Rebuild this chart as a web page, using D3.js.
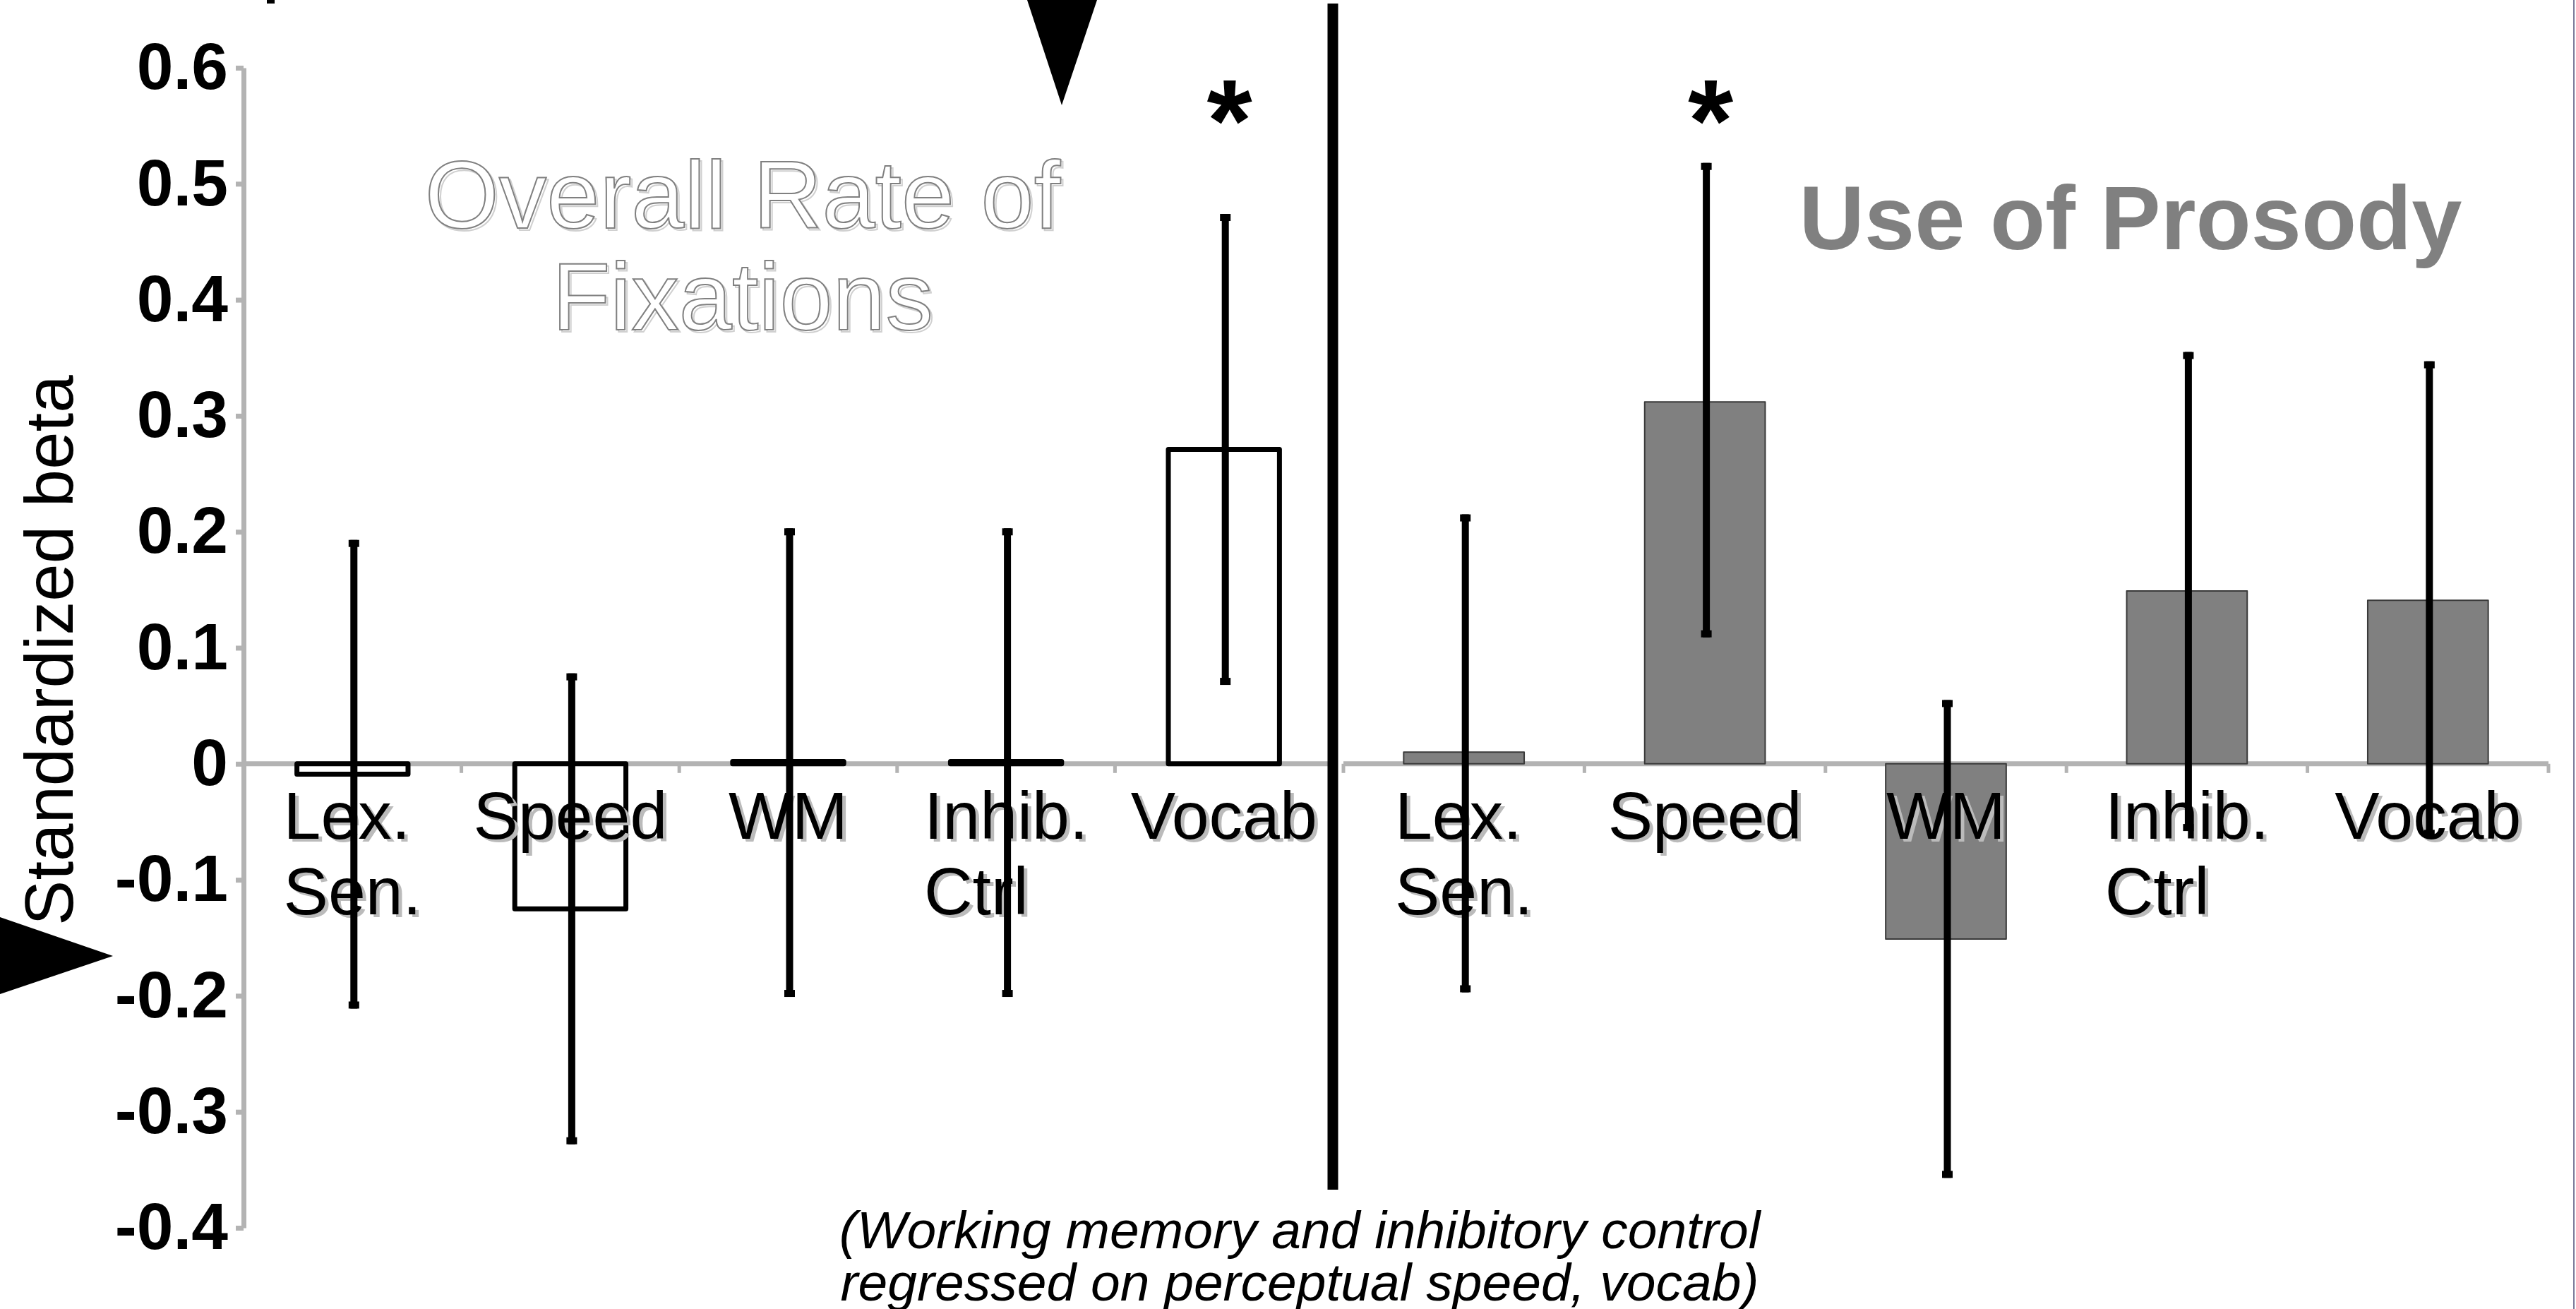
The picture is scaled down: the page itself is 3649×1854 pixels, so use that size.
<!DOCTYPE html>
<html>
<head>
<meta charset="utf-8">
<script src="https://cdnjs.cloudflare.com/ajax/libs/d3/7.8.5/d3.min.js"></script>
<style>
  body { margin: 0; background: #fff; }
  text { font-family: "Liberation Sans", Arial, sans-serif; }
</style>
</head>
<body>
<script>

// categories shared by both panels, label lines split on "|"
var categories = ["Lex.|Sen.", "Speed", "WM", "Inhib.|Ctrl", "Vocab"];

// overall rate of fixations (left panel)
var fixBeta = [-0.009, -0.125, 0.002, 0.002, 0.271];
var fixLow  = [-0.211, -0.328, -0.201, -0.201, 0.068];
var fixHigh = [0.193, 0.078, 0.203, 0.203, 0.474];
var fixSig  = [false, false, false, false, true];

// use of prosody (right panel)
var prosBeta = [0.010, 0.312, -0.151, 0.149, 0.141];
var prosLow  = [-0.197, 0.109, -0.357, -0.058, -0.063];
var prosHigh = [0.215, 0.518, 0.055, 0.355, 0.347];
var prosSig  = [false, true, false, false, false];

var yTicks = [0.6, 0.5, 0.4, 0.3, 0.2, 0.1, 0, -0.1, -0.2, -0.3, -0.4];

var width = 3649, height = 1854;

var svg = d3.select("body").append("svg")
	.attr("width", width)
	.attr("height", height);

var y = d3.scaleLinear().domain([-0.4, 0.6]).range([1739, 96]);

var xLeft = d3.scaleBand().domain(categories).range([345, 1888])
	.paddingInner(0.49).paddingOuter(0.245);
var xRight = d3.scaleBand().domain(categories).range([1903, 3610])
	.paddingInner(0.5).paddingOuter(0.25);

var axisGrey = "#b3b3b3";

// right edge frame line
svg.append("line")
	.attr("x1", 3646).attr("x2", 3646).attr("y1", 0).attr("y2", height)
	.attr("stroke", "#7a7a99").attr("stroke-width", 2);

// y axis (plain hyphen for the minus sign, as in the original)
var yAxis = svg.append("g")
	.attr("transform", "translate(345,0)")
	.call(d3.axisLeft(y).tickValues(yTicks).tickSize(11).tickSizeOuter(0).tickPadding(11)
		.tickFormat(function(d) { return d === 0 ? "0" : d.toFixed(1); }));
yAxis.select(".domain").attr("stroke", axisGrey).attr("stroke-width", 7);
yAxis.selectAll(".tick line").attr("stroke", axisGrey).attr("stroke-width", 7);
yAxis.selectAll(".tick text")
	.attr("fill", "#000")
	.attr("font-size", 93)
	.attr("font-weight", "bold")
	.attr("font-family", "Liberation Sans, Arial, sans-serif");

// x axis lines with ticks between the categories
function drawXAxis(x) {
	var g = svg.append("g");
	var r = x.range();
	g.append("line")
		.attr("x1", r[0]).attr("x2", r[1])
		.attr("y1", y(0)).attr("y2", y(0))
		.attr("stroke", axisGrey).attr("stroke-width", 7);
	var bounds = d3.range(categories.length + 1).map(function(i) { return r[0] + i * x.step(); });
	g.selectAll("line.tk").data(bounds).enter().append("line")
		.attr("class", "tk")
		.attr("x1", function(d) { return d; }).attr("x2", function(d) { return d; })
		.attr("y1", y(0)).attr("y2", y(0) + 13)
		.attr("stroke", axisGrey).attr("stroke-width", 5);
}
drawXAxis(xLeft);
drawXAxis(xRight);

// bars
function drawBars(x, vals, fill, stroke, sw) {
	svg.append("g").selectAll("rect").data(vals).enter().append("rect")
		.attr("x", function(d, i) { return x(categories[i]); })
		.attr("width", x.bandwidth())
		.attr("y", function(d) { return y(Math.max(0, d)); })
		.attr("height", function(d) { return Math.abs(y(d) - y(0)); })
		.attr("fill", fill)
		.attr("stroke", stroke)
		.attr("stroke-width", sw)
		.attr("stroke-linejoin", "round");
}
drawBars(xLeft, fixBeta, "#fff", "#000", 7);
drawBars(xRight, prosBeta, "#808080", "#3a3a3a", 2);

// category labels, lines left aligned, block centred on the band
function drawLabels(x) {
	categories.forEach(function(c, i) {
		var lines = c.split("|");
		var g = svg.append("g");
		[["#bbbbbb", 5, 4], ["#000", 0, 0]].forEach(function(s) {
			var t = g.append("text")
				.attr("fill", s[0])
				.attr("font-size", 95)
				.attr("transform", "translate(" + s[1] + "," + s[2] + ")");
			lines.forEach(function(l, j) {
				t.append("tspan").attr("x", 0).attr("y", 1188 + j * 107).text(l);
			});
		});
		var w = g.node().getBBox().width - 5;
		var cx = x(c) + x.bandwidth() / 2;
		g.attr("transform", "translate(" + (cx - w / 2) + ",0)");
	});
}
drawLabels(xLeft);
drawLabels(xRight);

// error bars
function drawErrors(x, lo, hi) {
	var g = svg.append("g");
	categories.forEach(function(c, i) {
		var cx = x(c) + x.bandwidth() / 2 + 2;
		g.append("line")
			.attr("x1", cx).attr("x2", cx)
			.attr("y1", y(hi[i])).attr("y2", y(lo[i]))
			.attr("stroke", "#000").attr("stroke-width", 10);
		g.append("rect").attr("x", cx - 7.5).attr("width", 15)
			.attr("y", y(hi[i])).attr("height", 10).attr("fill", "#000");
		g.append("rect").attr("x", cx - 7.5).attr("width", 15)
			.attr("y", y(lo[i]) - 10).attr("height", 10).attr("fill", "#000");
	});
}
drawErrors(xLeft, fixLow, fixHigh);
drawErrors(xRight, prosLow, prosHigh);

// significance stars
function drawStars(x, sig) {
	categories.forEach(function(c, i) {
		if (!sig[i]) return;
		svg.append("text")
			.attr("x", x(c) + x.bandwidth() / 2 + 8)
			.attr("y", 228)
			.attr("text-anchor", "middle")
			.attr("font-size", 165)
			.attr("font-weight", "bold")
			.text("*");
	});
}
drawStars(xLeft, fixSig);
drawStars(xRight, prosSig);

// panel divider
svg.append("line")
	.attr("x1", 1888).attr("x2", 1888).attr("y1", 5).attr("y2", 1685)
	.attr("stroke", "#000").attr("stroke-width", 15);

// panel titles
var t1 = ["Overall Rate of", "Fixations"];
[["#d0d0d0", 3], ["#808080", 0]].forEach(function(s) {
	svg.append("text")
		.attr("x", 1052 + s[1]).attr("y", 323 + s[1])
		.attr("text-anchor", "middle")
		.attr("font-size", 135)
		.attr("fill", "#fff")
		.attr("stroke", s[0])
		.attr("stroke-width", 2)
		.selectAll("tspan").data(t1).enter().append("tspan")
		.attr("x", 1052 + s[1])
		.attr("dy", function(d, i) { return i ? 144 : 0; })
		.text(function(d) { return d; });
});

svg.append("text")
	.attr("x", 3018).attr("y", 353)
	.attr("text-anchor", "middle")
	.attr("font-size", 128)
	.attr("font-weight", "bold")
	.attr("fill", "#808080")
	.text("Use of Prosody");

// y axis title
svg.append("text")
	.attr("transform", "translate(103,921) rotate(-90)")
	.attr("text-anchor", "middle")
	.attr("font-size", 96)
	.text("Standardized beta");

// caption
svg.append("text")
	.attr("text-anchor", "middle")
	.attr("font-size", 75)
	.attr("font-style", "italic")
	.selectAll("tspan").data(["(Working memory and inhibitory control", "regressed on perceptual speed, vocab)"])
	.enter().append("tspan")
	.attr("x", 1841)
	.attr("y", function(d, i) { return 1768 + i * 74; })
	.text(function(d) { return d; });

// cropped pointer marks from the original slide
svg.append("polygon").attr("points", "1455,0 1554,0 1504,149").attr("fill", "#000");
svg.append("polygon").attr("points", "0,1299 160,1354 0,1408").attr("fill", "#000");
svg.append("rect").attr("x", 378).attr("y", 0).attr("width", 11).attr("height", 5).attr("fill", "#000");

</script>
</body>
</html>
